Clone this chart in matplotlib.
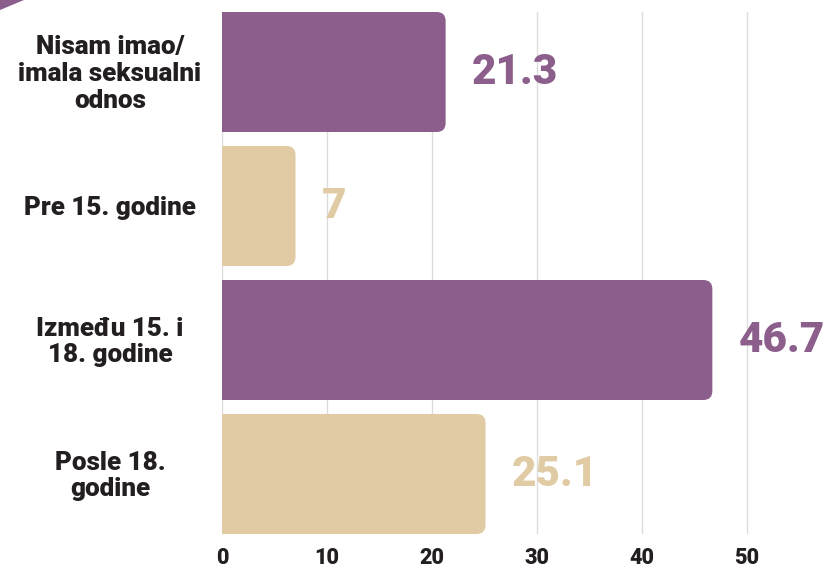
import matplotlib.pyplot as plt
from matplotlib import font_manager as fm
from matplotlib.patches import FancyBboxPatch, Polygon

categories = ["Nisam imao/\nimala seksualni\nodnos", "Pre 15. godine",
              "Između 15. i\n18. godine", "Posle 18.\ngodine"]
values = [21.3, 7, 46.7, 25.1]
labels = ["21.3", "7", "46.7", "25.1"]
ticks = [0, 10, 20, 30, 40, 50]

purple = "#8b5e8b"
beige = "#e0cba5"
colors = [purple, beige, purple, beige]
dark = "#231f20"

# heaviest font that is installed
fam, wt = 'DejaVu Sans', 'bold'
for name in ['Montserrat', 'Roboto', 'Inter', 'Open Sans', 'Lato', 'Noto Sans']:
    ws = [f.weight for f in fm.fontManager.ttflist if f.name == name and isinstance(f.weight, int)]
    if ws and max(ws) >= 800:
        fam, wt = name, max(ws)
        break
plt.rcParams['font.family'] = [fam, 'DejaVu Sans']

W, H = 831, 571
fig = plt.figure(figsize=(W / 100, H / 100), dpi=100)
ax = fig.add_axes([222 / W, 1 - 534 / H, 1 - 222 / W, 522 / H])
renderer = fig.canvas.get_renderer()


def fit_size(s, width_px, base=20):
    t = fig.text(0, 0, s, fontsize=base, fontweight=wt)
    w = t.get_window_extent(renderer).width
    t.remove()
    return base * width_px / w


cat_fs = fit_size("Pre 15. godine", 172)
val_fs = fit_size("46.7", 86)
tick_fs = fit_size("50", 25)

xmax = (W - 222) / 10.5
ax.set_xlim(0, xmax)
h = 120 / 134
ax.set_ylim(3 + h / 2, -h / 2)

# pixel scale for rounded corners
px_x = xmax / (W - 222)
px_y = (3 + h) / 522
r = 9 * px_x

for i, (v, c) in enumerate(zip(values, colors)):
    p = FancyBboxPatch((-r * 2, i - h / 2), v + r * 2, h,
                       boxstyle=f"round,pad=0,rounding_size={r}",
                       mutation_aspect=px_y / px_x,
                       facecolor=c, edgecolor="none", zorder=2)
    ax.add_patch(p)
    ax.text(v + 26 * px_x, i, labels[i], color=c, fontsize=val_fs,
            fontweight=wt, va='center', ha='left', zorder=3)

ax.set_xticks(ticks)
ax.set_xticklabels([str(t) for t in ticks], fontsize=tick_fs, fontweight=wt, color=dark)
ax.set_yticks(range(len(categories)))
ax.set_yticklabels([])
for i, cat in enumerate(categories):
    ax.text(110 / W, 1 - (12 + 62 + 134 * i) / H, cat, transform=fig.transFigure,
            ha='center', va='center', multialignment='center',
            fontsize=cat_fs, fontweight=wt, color=dark, linespacing=1.15)

ax.tick_params(axis='both', length=0)
ax.tick_params(axis='x', pad=9)
for s in ax.spines.values():
    s.set_visible(False)
ax.grid(axis='x', color='#dcdcdc', linewidth=1)
ax.grid(axis='y', visible=False)
ax.set_axisbelow(True)

# corner decoration
fig.patches.append(Polygon([[0, 1], [24 / W, 1], [0, 1 - 10 / H]], closed=True,
                           transform=fig.transFigure, facecolor=purple, edgecolor='none'))

fig.savefig("out.png", dpi=100)
